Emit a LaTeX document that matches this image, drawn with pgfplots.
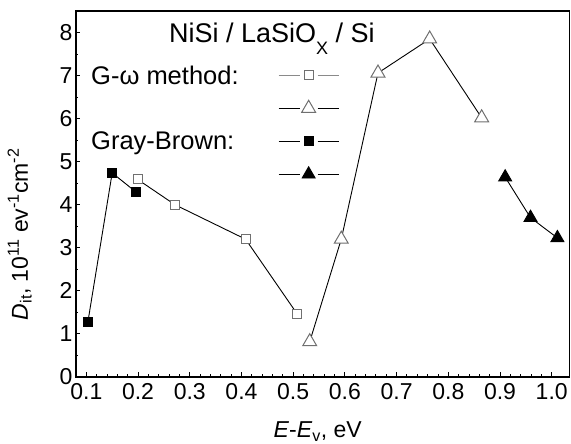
\documentclass[border=0pt]{standalone}
\usepackage{fontspec}
\setmainfont{Liberation Sans}
\usepackage{pgfplots}
\pgfplotsset{compat=1.18}
\definecolor{mkgray}{HTML}{707070}
\definecolor{lgray}{HTML}{8A8A8A}
\begin{document}
\begin{tikzpicture}
\begin{axis}[
  scale only axis,
  width=493.3pt, height=366pt,
  xmin=0.08, xmax=1.034, ymin=0, ymax=8.5,
  axis line style={line width=1.5pt},
  xtick={0.1,0.2,...,1.0}, ytick={0,1,...,8},
  minor x tick num=4, minor y tick num=1,
  tick align=inside, xtick pos=bottom, ytick pos=left,
  major tick length=4.5pt, minor tick length=2.5pt,
  every tick/.style={black, line width=0.9pt},
  /pgf/number format/assume math mode=true,
  ticklabel style={font=\fontsize{23}{27}\selectfont},
  xticklabel style={/pgf/number format/fixed, /pgf/number format/fixed zerofill, /pgf/number format/precision=1, yshift=-3pt},
  yticklabel style={/pgf/number format/fixed, /pgf/number format/precision=0},
  xlabel={\textit{E}-\textit{E}\textsubscript{v}, eV},
  ylabel={\textit{D}\textsubscript{it}, 10\textsuperscript{11} ev\textsuperscript{-1}cm\textsuperscript{-2}},
  label style={font=\fontsize{23}{27}\selectfont},
  xlabel style={at={(axis description cs:0.49,-0.166)}, anchor=base},
  ylabel style={at={(axis description cs:-0.0973,0.39)}, anchor=base},
  legend image code/.code={
    \path[draw=none, fill=none] (0pt,-16.5pt) rectangle (60pt,16.5pt);
    \draw[mark=none] (0pt,0pt) -- (21pt,0pt);
    \draw[mark=none] (39pt,0pt) -- (60pt,0pt);
    \draw[only marks] plot coordinates {(30pt,0pt)};
  },
  legend style={draw=none, fill=none, inner sep=0pt, row sep=0pt,
    at={(rel axis cs:0.4095,0.870)}, anchor=north west,
    nodes={inner sep=0pt}},
  legend cell align=left,
]
% Gray-Brown, filled squares
\addplot[forget plot, black, line width=0.9pt, mark=square*, mark size=4.5pt, mark options={fill=black, solid}]
  coordinates {(0.103,1.28) (0.150,4.74) (0.1955,4.30)};
% G-omega, open squares
\addplot[forget plot, black, line width=0.9pt, mark=square*, mark size=4.5pt, mark options={fill=white, draw=mkgray, line width=1pt}]
  coordinates {(0.199,4.59) (0.2715,4.00) (0.408,3.20) (0.508,1.46)};
% G-omega, open triangles
\addplot[forget plot, black, line width=0.9pt, mark=triangle*, mark size=8pt, mark options={fill=white, draw=mkgray, line width=1pt}]
  coordinates {(0.532,0.82) (0.593,3.20) (0.664,7.06) (0.764,7.85) (0.8645,6.02)};
% Gray-Brown, filled triangles
\addplot[forget plot, black, line width=0.9pt, mark=triangle*, mark size=7.5pt, mark options={fill=black}]
  coordinates {(0.910,4.64) (0.959,3.70) (1.011,3.23)};
% legend images
\addlegendimage{lgray, line width=0.9pt, mark=square*, mark size=4.5pt, mark options={fill=white, draw=mkgray, line width=1pt}}
\addlegendentry{}
\addlegendimage{black, line width=0.9pt, mark=triangle*, mark size=8pt, mark options={fill=white, draw=mkgray, line width=1pt}}
\addlegendentry{}
\addlegendimage{black, line width=0.9pt, mark=square*, mark size=4.5pt, mark options={fill=black}}
\addlegendentry{}
\addlegendimage{black, line width=0.9pt, mark=triangle*, mark size=7.5pt, mark options={fill=black}}
\addlegendentry{}
\node[anchor=base, font=\fontsize{27}{32}\selectfont] at (rel axis cs:0.397,0.9126)
  {NiSi / LaSiO\raisebox{-12pt}{\fontsize{18}{21}\selectfont X} / Si};
\node[anchor=west, inner sep=0pt, font=\fontsize{25.5}{30}\selectfont] at (rel axis cs:0.0304,0.825) {G-ω method:};
\node[anchor=west, inner sep=0pt, font=\fontsize{25.5}{30}\selectfont] at (rel axis cs:0.0304,0.639) {Gray-Brown:};
\end{axis}
\pgfresetboundingbox
\path (current axis.south west) ++(-76pt,-67pt) coordinate (bbA);
\path (current axis.north east) ++(1.7pt,11pt) coordinate (bbB);
\path (bbA) rectangle (bbB);
\end{tikzpicture}
\end{document}
